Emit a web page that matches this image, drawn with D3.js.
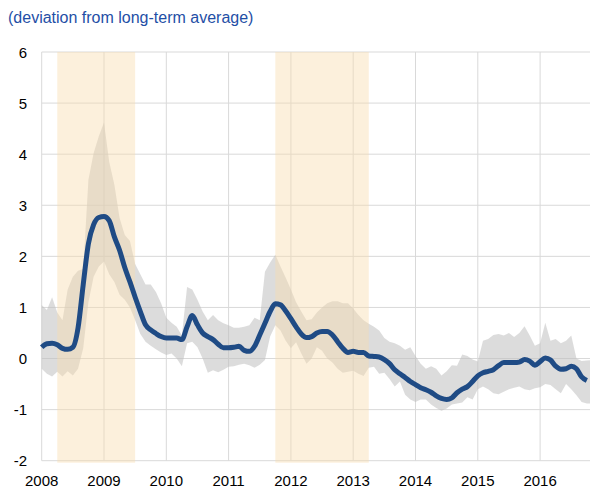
<!DOCTYPE html>
<html>
<head>
<meta charset="utf-8">
<script src="https://cdn.jsdelivr.net/npm/d3@7"></script>
<style>
  html, body { margin: 0; padding: 0; background: #fff; }
  svg { display: block; font-family: "Liberation Sans", Arial, sans-serif; }
</style>
</head>
<body>
<svg id="chart" width="590" height="488"></svg>
<script>
// Monthly observations starting January 2008
const startYear = 2008;

// Central indicator (deviation from long-term average)
const indicator = [
  0.22, 0.29, 0.30, 0.27, 0.20, 0.18, 0.22, 0.60, 1.45, 2.25, 2.62, 2.76,
  2.78, 2.70, 2.38, 2.12, 1.78, 1.50, 1.20, 0.92, 0.66, 0.56, 0.49, 0.43,
  0.40, 0.40, 0.40, 0.37, 0.62, 0.84, 0.66, 0.50, 0.43, 0.37, 0.28, 0.21,
  0.21, 0.22, 0.24, 0.16, 0.14, 0.24, 0.46, 0.69, 0.92, 1.07, 1.05, 0.93,
  0.78, 0.62, 0.48, 0.41, 0.43, 0.50, 0.53, 0.53, 0.46, 0.33, 0.20, 0.12,
  0.14, 0.12, 0.12, 0.05, 0.04, 0.03, -0.02, -0.10, -0.22, -0.30, -0.37, -0.45,
  -0.51, -0.57, -0.61, -0.66, -0.73, -0.78, -0.80, -0.77, -0.67, -0.60, -0.55, -0.45,
  -0.34, -0.28, -0.25, -0.22, -0.14, -0.08, -0.08, -0.08, -0.07, -0.02, -0.05, -0.13,
  -0.06, 0.01, -0.03, -0.15, -0.21, -0.20, -0.15, -0.20, -0.36, -0.43
];

// Upper bound of the range across measures
const rangeHigh = [
  1.05, 0.95, 1.20, 0.90, 0.75, 1.35, 1.60, 1.72, 1.75, 3.50, 4.02, 4.35,
  4.62, 3.85, 3.40, 2.75, 2.42, 2.30, 1.85, 1.65, 1.45, 1.45, 1.30, 1.08,
  0.80, 0.70, 0.62, 0.45, 1.40, 1.35, 1.15, 0.92, 0.75, 0.85, 0.75, 0.69,
  0.65, 0.60, 0.60, 0.62, 0.65, 0.80, 0.75, 1.70, 1.88, 2.03, 1.80, 1.58,
  1.35, 1.10, 0.92, 0.75, 0.77, 0.90, 1.00, 1.08, 1.12, 1.12, 1.08, 1.08,
  0.98, 0.85, 0.75, 0.68, 0.62, 0.55, 0.40, 0.33, 0.30, 0.25, 0.17, 0.22,
  0.05, -0.10, -0.20, -0.15, -0.20, -0.33, -0.25, -0.13, -0.14, 0.08, 0.05, -0.02,
  -0.06, 0.35, 0.38, 0.46, 0.48, 0.45, 0.50, 0.42, 0.50, 0.63, 0.45, 0.25,
  0.30, 0.70, 0.35, 0.38, 0.30, 0.35, 0.45, 0.00, -0.05, -0.04, -0.03
];

// Lower bound of the range across measures
const rangeLow = [
  -0.20, -0.30, -0.35, -0.26, -0.35, -0.25, -0.33, -0.20, 0.20, 1.10, 1.60, 1.80,
  1.90, 1.65, 1.50, 1.25, 1.15, 1.00, 0.75, 0.48, 0.33, 0.25, 0.18, 0.12,
  0.07, 0.10, 0.00, -0.15, 0.30, 0.33, 0.22, 0.00, -0.28, -0.23, -0.27, -0.22,
  -0.16, -0.15, -0.12, -0.10, -0.13, -0.18, -0.12, -0.03, 0.43, 0.65, 0.55, 0.35,
  0.20, 0.32, 0.10, -0.10, 0.00, 0.22, 0.15, 0.00, -0.08, -0.20, -0.28, -0.26,
  -0.24, -0.30, -0.34, -0.18, -0.16, -0.30, -0.28, -0.40, -0.55, -0.45, -0.71, -0.80,
  -0.85, -0.80, -0.80, -0.90, -0.97, -1.02, -0.98, -0.90, -0.88, -0.86, -0.76, -0.80,
  -0.60, -0.55, -0.60, -0.68, -0.70, -0.65, -0.60, -0.57, -0.55, -0.60, -0.62, -0.58,
  -0.56, -0.50, -0.52, -0.60, -0.68, -0.50, -0.60, -0.72, -0.85, -0.88, -0.88
];

// Shaded periods (start, end as fractional years)
const shadedPeriods = [[2008.25, 2009.5], [2011.75, 2013.25]];

const yTicks = [-2, -1, 0, 1, 2, 3, 4, 5, 6];
const xTicks = [2008, 2009, 2010, 2011, 2012, 2013, 2014, 2015, 2016];
const titleText = "(deviation from long-term average)";

const svg = d3.select("#chart");
const W = 590;

const x = d3.scaleLinear().domain([2008, 2017]).range([41.7, 41.7 + 9 * 62.3]);
const y = d3.scaleLinear().domain([-2, 6]).range([460.7, 52]);

const t = i => startYear + i / 12;

// Title
svg.append("text")
  .attr("x", 8).attr("y", 23)
  .attr("font-size", 16)
  .attr("fill", "#1f4fa6")
  .text(titleText);

// Horizontal gridlines
svg.append("g").selectAll("line").data(yTicks).join("line")
  .attr("x1", x(2008)).attr("x2", W)
  .attr("y1", d => y(d)).attr("y2", d => y(d))
  .attr("stroke", "#d9d9d9").attr("stroke-width", 1);

// Vertical gridlines (incl. left axis)
svg.append("g").selectAll("line").data(xTicks).join("line")
  .attr("x1", d => x(d)).attr("x2", d => x(d))
  .attr("y1", y(6)).attr("y2", y(-2))
  .attr("stroke", "#d9d9d9").attr("stroke-width", 1);

// Range band
const area = d3.area()
  .x((d, i) => x(t(i)))
  .y0((d, i) => y(rangeLow[i]))
  .y1(d => y(d));
svg.append("path")
  .datum(rangeHigh)
  .attr("d", area)
  .attr("fill", "rgb(192,192,192)")
  .attr("fill-opacity", 0.55);

// Shaded periods
svg.append("g").selectAll("rect").data(shadedPeriods).join("rect")
  .attr("x", d => x(d[0]))
  .attr("width", d => x(d[1]) - x(d[0]))
  .attr("y", y(6))
  .attr("height", y(-2) - y(6) + 2)
  .attr("fill", "rgb(248,220,174)")
  .attr("fill-opacity", 0.43);

// Indicator line
const line = d3.line()
  .x((d, i) => x(t(i)))
  .y(d => y(d))
  .curve(d3.curveMonotoneX);
svg.append("path")
  .datum(indicator)
  .attr("d", line)
  .attr("fill", "none")
  .attr("stroke", "#1f4b85")
  .attr("stroke-width", 5)
  .attr("stroke-linejoin", "round")
  .attr("stroke-linecap", "butt");

// Y axis labels
svg.append("g").selectAll("text").data(yTicks).join("text")
  .attr("x", 27).attr("y", d => y(d) + 5.5)
  .attr("text-anchor", "end")
  .attr("font-size", 15)
  .attr("fill", "#000")
  .text(d => d);

// X axis labels
svg.append("g").selectAll("text").data(xTicks).join("text")
  .attr("x", d => x(d)).attr("y", 486)
  .attr("text-anchor", "middle")
  .attr("font-size", 15)
  .attr("fill", "#000")
  .text(d => d);
</script>
</body>
</html>
